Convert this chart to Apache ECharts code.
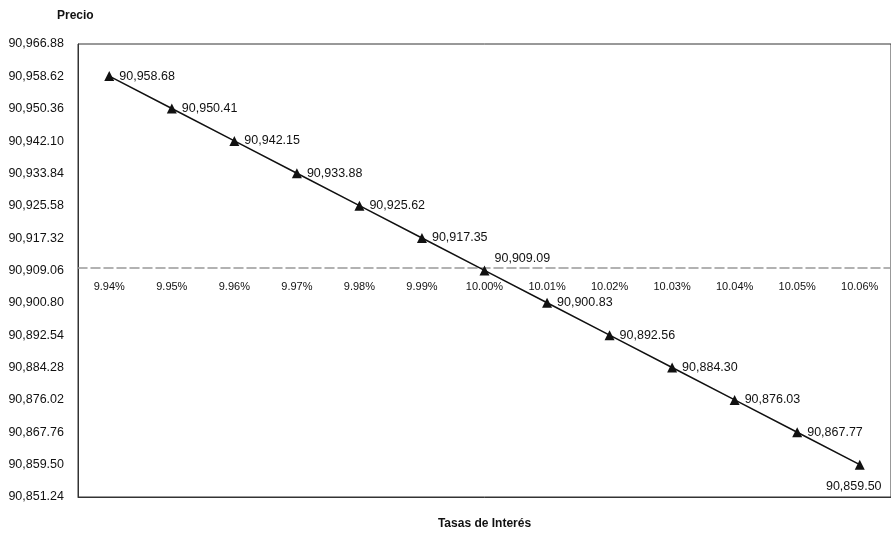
<!DOCTYPE html>
<html>
<head>
<meta charset="utf-8">
<script src="https://cdn.jsdelivr.net/npm/echarts@6/dist/echarts.min.js"></script>
<style>html,body{margin:0;padding:0;background:#fff;}#c{width:891px;height:535px;}</style>
</head>
<body>
<div id="c"></div>
<script>
const categories = ['9.94%','9.95%','9.96%','9.97%','9.98%','9.99%','10.00%','10.01%','10.02%','10.03%','10.04%','10.05%','10.06%'];
const prices = [90958.68, 90950.41, 90942.15, 90933.88, 90925.62, 90917.35, 90909.09, 90900.83, 90892.56, 90884.30, 90876.03, 90867.77, 90859.50];
const yMin = 90851.24;
const yMax = 90966.88;
const yStep = 8.26;
const xCrossValue = 90909.06;
const yTitle = 'Precio';
const xTitle = 'Tasas de Interés';

function fmt(v) {
  const s = Number(v).toFixed(2);
  const parts = s.split('.');
  parts[0] = parts[0].replace(/\B(?=(\d{3})+(?!\d))/g, ',');
  return parts.join('.');
}

const FONT = '"Liberation Sans", Arial, sans-serif';
const gridTop = 44, gridBottom = 33, chartH = 535;
const plotH = chartH - gridTop - gridBottom;
const crossOffset = -((yMax - xCrossValue) / (yMax - yMin) * plotH - plotH);

const chart = echarts.init(document.getElementById('c'));
const seriesData = prices.map((v, i) => {
  if (i === 6) return { value: v, label: { position: 'right', offset: [0, -12] } };
  if (i === prices.length - 1) return { value: v, label: { position: 'bottom', offset: [-6, 5] } };
  return v;
});
chart.setOption({
  animation: false,
  backgroundColor: '#fff',
  title: {
    text: yTitle, left: 52, top: 5,
    textStyle: { fontFamily: FONT, fontSize: 12, fontWeight: 'bold', color: '#111' }
  },
  grid: { left: 78, right: -7, top: gridTop, bottom: gridBottom, show: true, borderColor: '#333', borderWidth: 1, backgroundColor: 'transparent' },
  xAxis: [
    {
      type: 'category', data: categories, boundaryGap: true, position: 'bottom',
      axisLine: { show: true, lineStyle: { color: '#333', width: 1 } },
      axisTick: { show: false }, axisLabel: { show: false }, splitLine: { show: false },
      name: xTitle, nameLocation: 'middle', nameGap: 21,
      nameTextStyle: { fontFamily: FONT, fontSize: 12, fontWeight: 'bold', color: '#111' }
    },
    {
      type: 'category', data: categories, boundaryGap: true, position: 'bottom', offset: -crossOffset,
      axisLine: { show: true, lineStyle: { color: '#999', width: 1.5, type: [9, 4] } },
      axisTick: { show: false }, splitLine: { show: false },
      axisLabel: { fontFamily: FONT, fontSize: 11, color: '#111', margin: 13, interval: 0 }
    }
  ],
  yAxis: {
    type: 'value', min: yMin, max: yMax, interval: yStep,
    axisLine: { show: true, lineStyle: { color: '#333' } },
    axisTick: { show: false }, splitLine: { show: false },
    axisLabel: { fontFamily: FONT, fontSize: 12.5, color: '#111', margin: 14, formatter: fmt }
  },
  series: [{
    type: 'line', data: seriesData, xAxisIndex: 0,
    symbol: 'triangle', symbolSize: 10,
    itemStyle: { color: '#111' },
    lineStyle: { color: '#111', width: 1.5 },
    label: { show: true, position: 'right', fontFamily: FONT, fontSize: 12.5, color: '#111', formatter: p => fmt(p.value) }
  }]
});
</script>
</body>
</html>
